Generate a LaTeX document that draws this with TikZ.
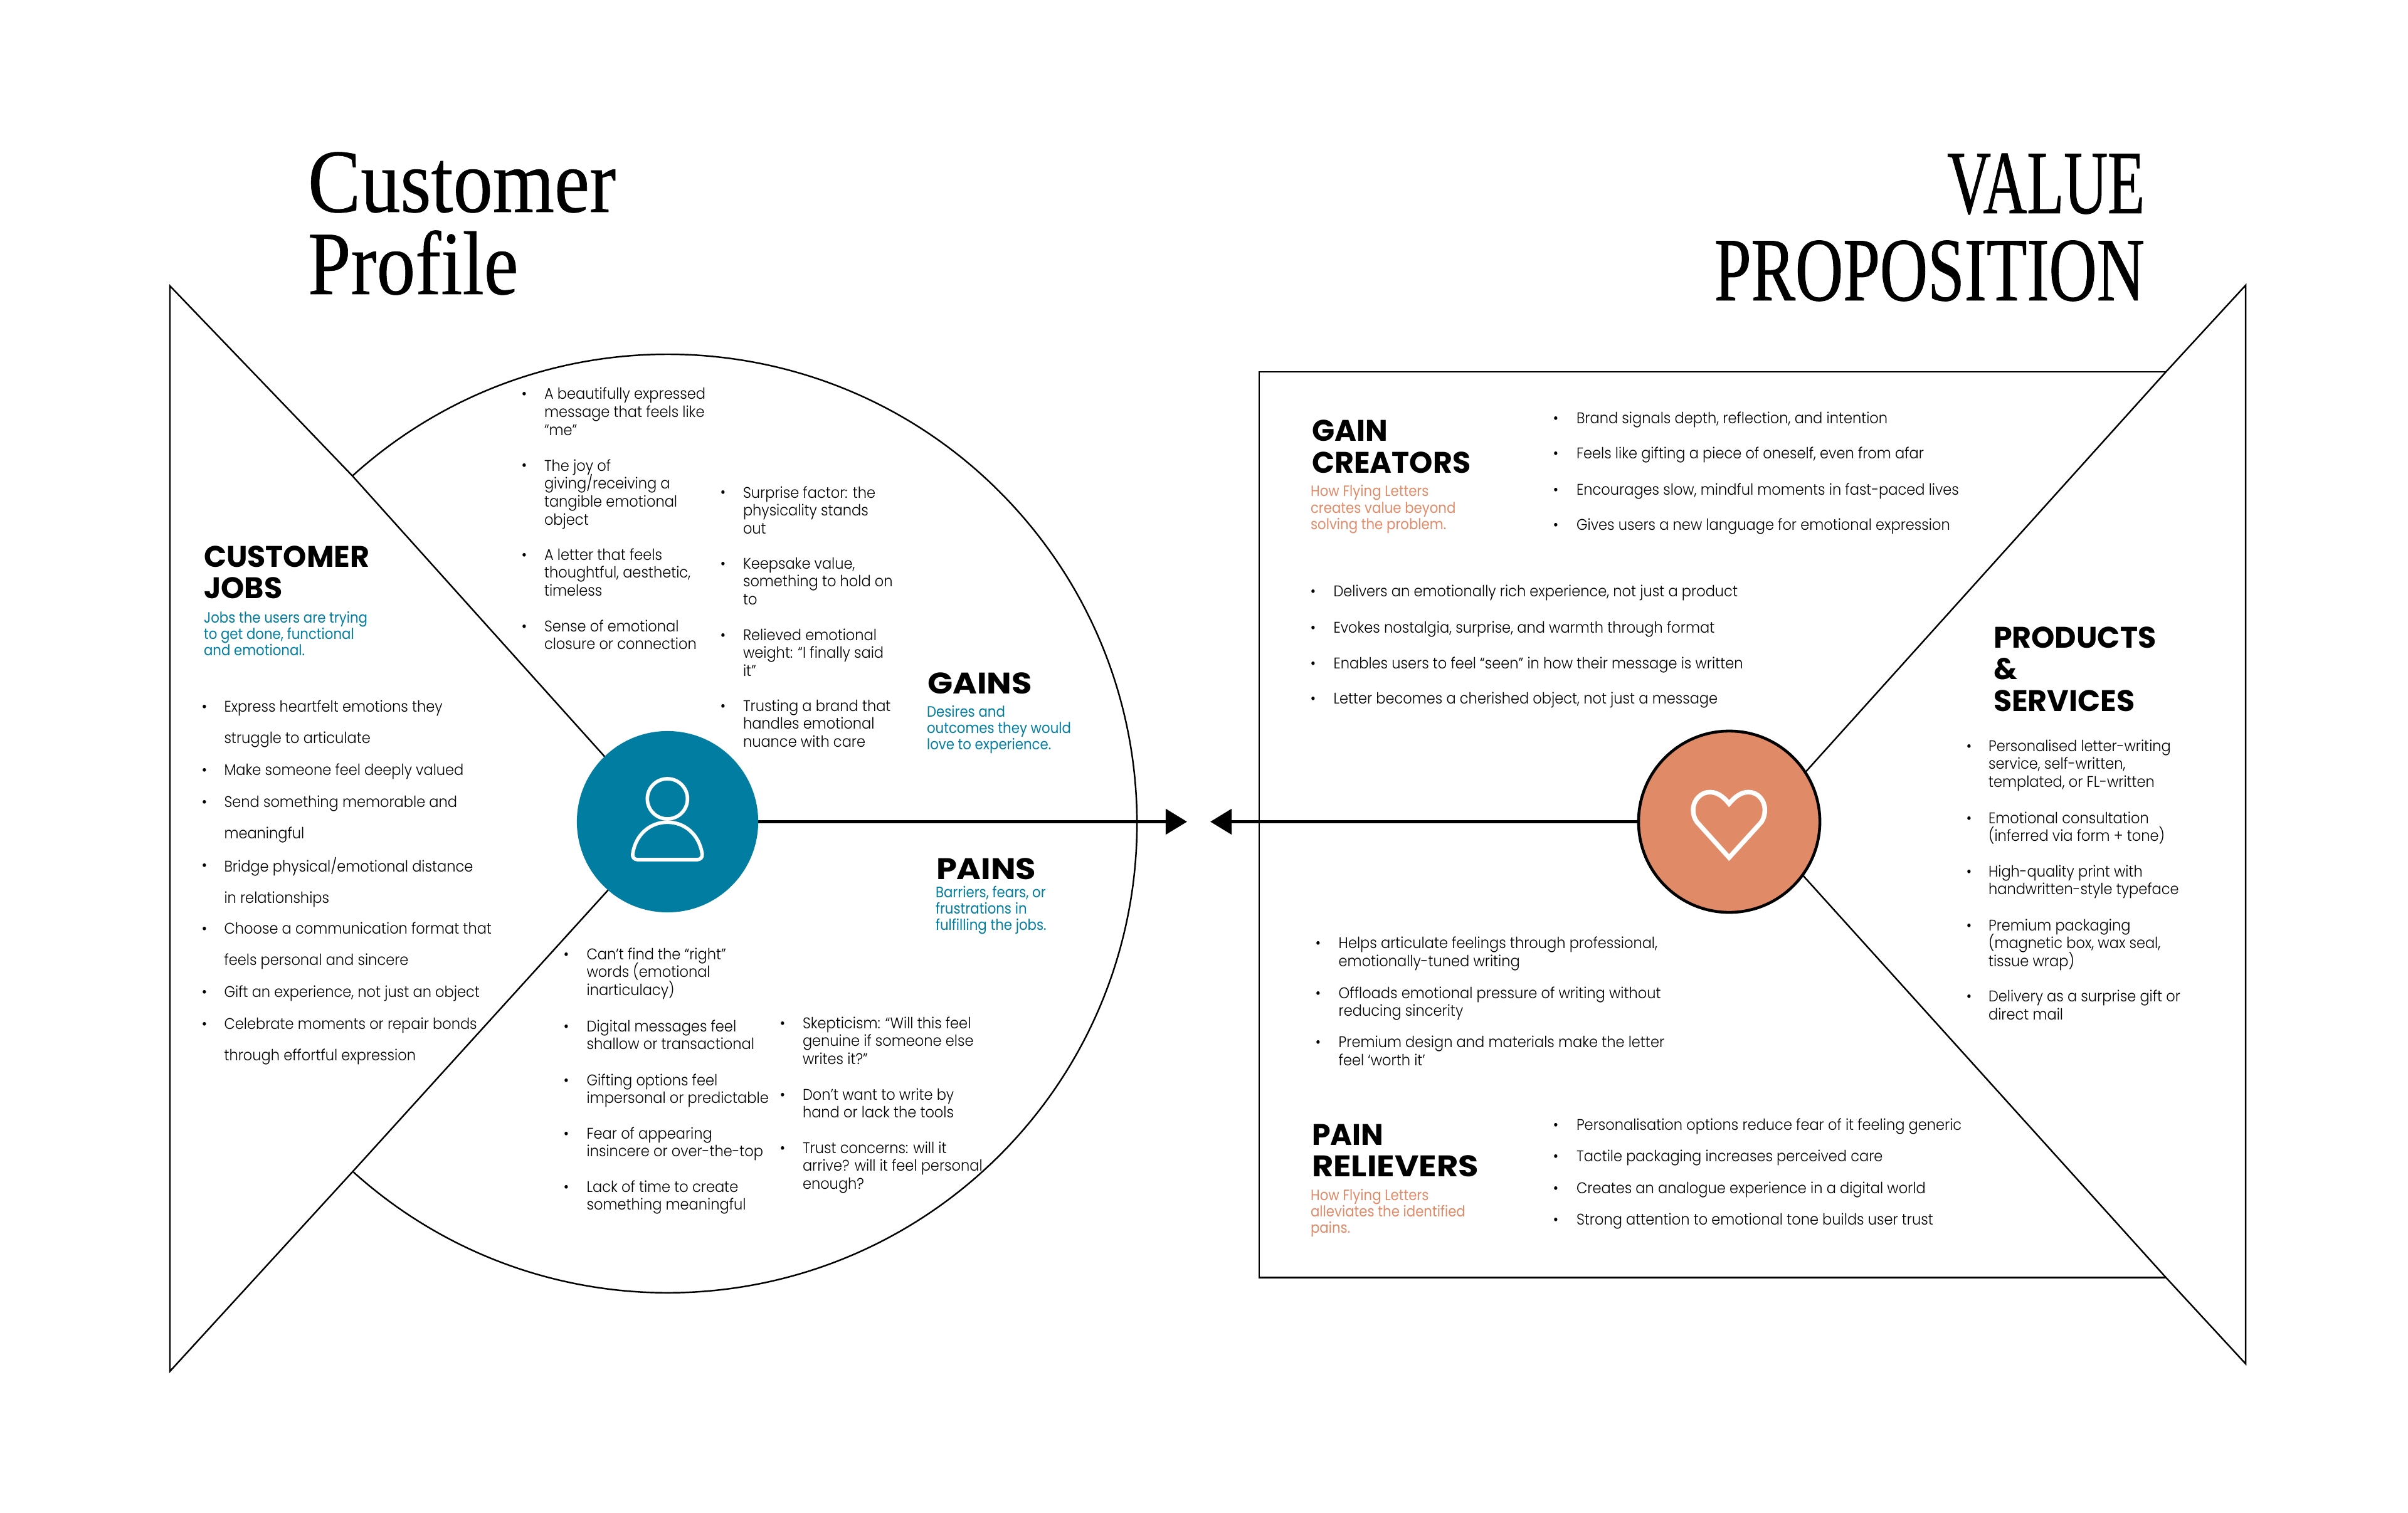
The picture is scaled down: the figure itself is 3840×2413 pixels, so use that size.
\documentclass[tikz,border=0pt]{standalone}
\usepackage{fontspec}
\usetikzlibrary{arrows.meta}
\setmainfont{Poppins}
\newfontfamily\bodyface[FakeStretch=0.915]{Poppins Light}
\newfontfamily\subface[FakeStretch=0.89]{Poppins}
\newfontfamily\headface[FakeStretch=1.0]{Poppins Bold}
\newfontfamily\headwide[FakeStretch=1.11]{Poppins Bold}
\newfontfamily\titleA[FakeStretch=0.876,FakeBold=0.4]{Liberation Serif}
\newfontfamily\titleC[FakeStretch=0.855,FakeBold=0.4]{Liberation Serif}
\newfontfamily\titleB[FakeStretch=0.67,FakeBold=0.6]{Liberation Serif}
\newfontfamily\titleD[FakeStretch=0.732,FakeBold=0.6]{Liberation Serif}
\definecolor{teal}{HTML}{007DA0}
\definecolor{coral}{HTML}{E08A68}
\lineskiplimit=-20pt
\normallineskiplimit=-20pt
\tikzset{
  x=0.01cm,y=-0.01cm,
  bodytxt/.style={anchor=north west,inner sep=0pt,outer sep=0pt,yshift=6pt,align=left,text=black,font=\bodyface\fontsize{7}{8.165}\selectfont},
  wide/.style={font=\bodyface\fontsize{7}{14.4}\selectfont},
  bul/.style={anchor=base,inner sep=0pt,outer sep=0pt,font=\bodyface\fontsize{7}{8}\selectfont},
  headtxt/.style={anchor=north west,inner sep=0pt,outer sep=0pt,yshift=13pt,align=left,text=black,font=\headface\fontsize{13.5}{14.45}\selectfont},
  subtxt/.style={anchor=north west,inner sep=0pt,outer sep=0pt,yshift=6pt,align=left,font=\subface\fontsize{6.8}{7.5}\selectfont},
  titletxt/.style={inner sep=0pt,outer sep=0pt,text=black},
  thinline/.style={draw=black,line width=0.7pt,line join=miter},
  axis/.style={draw=black,line width=1.5pt,-{Triangle[length=9.7pt,width=11.4pt]}},
  iconline/.style={draw=white,line width=1.6pt,line join=round},
  hub/.style={circle,inner sep=0pt,outer sep=0pt,minimum size=2.89cm},
}
\newcommand\itm[6][]{%
  \node[bul] (#2b) at (#3,#5) {•};
  \node[bodytxt,#1] (#2) at (#4,#5) {\rule{0pt}{6pt}#6};
}
\newcommand\hd[4]{\node[headtxt] (#1) at (#2,#3) {\rule{0pt}{13pt}#4};}
\newcommand\sbt[5]{\node[subtxt,text=#4] (#1) at (#2,#3) {\rule{0pt}{6pt}#5};}
\begin{document}
\begin{tikzpicture}
\useasboundingbox (0,0) rectangle (3840,2413);
\fill[white] (0,0) rectangle (3840,2413);

% titles
\node[titletxt,anchor=base west,font=\titleA\fontsize{41}{41}\selectfont] (t1) at (491,338) {Customer};
\node[titletxt,anchor=base west,font=\titleC\fontsize{41}{41}\selectfont] (t2) at (491,469) {Profile};
\node[titletxt,anchor=base east,font=\titleB\fontsize{41}{41}\selectfont] (t3) at (3420,340) {VALUE};
\node[titletxt,anchor=base east,font=\titleD\fontsize{41}{41}\selectfont] (t4) at (3420,479) {PROPOSITION};

% hubs
\node[hub,fill=teal] (person) at (1064.5,1310.5) {};
\node[hub,fill=coral,draw=black,line width=1.3pt] (heart) at (2757.5,1310.5) {};

% left canvas
\coordinate (la) at (271,456);
\coordinate (lb) at (271,2187);
\coordinate (jt) at (562,759);
\coordinate (jb) at (562,1869);
\draw[thinline] (person.134) -- (jt) -- (la) -- (lb) -- (jb) -- (person.229);
\draw[thinline] (jt) arc[start angle=132.2,end angle=-132.03,radius=7.48cm];

% right canvas
\coordinate (ra) at (3581,455);
\coordinate (rb) at (3581,2175);
\coordinate (rt) at (3454,593);
\coordinate (rc) at (3454,2037.5);
\coordinate (rl) at (2008,593);
\coordinate (rd) at (2008,2037.5);
\draw[thinline] (heart.33) -- (rt) -- (ra) -- (rb) -- (rc) -- (heart.-36);
\draw[thinline] (rt) -- (rl) -- (rd) -- (rc);

% axis
\coordinate (tipl) at (1893,1310.5);
\coordinate (tipr) at (1930,1310.5);
\draw[axis] (person.east) -- (tipl);
\draw[axis] (heart.west) -- (tipr);

% person icon
\coordinate (headc) at (1064.3,1274);
\draw[iconline] (headc) circle[radius=0.32cm];
\draw[iconline] (1016.7,1371) -- (1112,1371)
  .. controls (1117,1371) and (1120.5,1367) .. (1119.7,1361.7)
  .. controls (1115,1331) and (1092,1311.3) .. (1064.3,1311.3)
  .. controls (1036.6,1311.3) and (1013.5,1331) .. (1009,1361.7)
  .. controls (1008,1367) and (1011.5,1371) .. (1016.7,1371) -- cycle;

% heart icon
\draw[iconline,line width=2.1pt,line join=miter] (2757.3,1367.7) -- (2706.7,1311.7)
  .. controls (2702,1306) and (2700,1299) .. (2700,1291.7)
  .. controls (2700,1276) and (2712,1263.3) .. (2726.7,1263.3)
  .. controls (2738,1263.3) and (2748,1270) .. (2757.3,1281.7)
  .. controls (2767,1270) and (2777,1263.3) .. (2788.3,1263.3)
  .. controls (2803,1263.3) and (2814.3,1276) .. (2814.3,1291.7)
  .. controls (2814.3,1299) and (2812.5,1306) .. (2808.3,1311.7) -- cycle;

% customer jobs
\hd{hcj}{325}{904}{CUSTOMER\\JOBS}
\sbt{scj}{325}{993}{teal}{Jobs the users are trying\\to get done, functional\\and emotional.}
\itm[wide]{j1}{326}{357.5}{1135}{Express heartfelt emotions they\\struggle to articulate}
\itm[wide]{j2}{326}{357.5}{1236}{Make someone feel deeply valued}
\itm[wide]{j3}{326}{357.5}{1287}{Send something memorable and\\meaningful}
\itm[wide]{j4}{326}{357.5}{1388}{Bridge physical/emotional distance\\in relationships}
\itm[wide]{j5}{326}{357.5}{1489}{Choose a communication format that\\feels personal and sincere}
\itm[wide]{j6}{326}{357.5}{1590}{Gift an experience, not just an object}
\itm[wide]{j7}{326}{357.5}{1641}{Celebrate moments or repair bonds\\through effortful expression}

% gains
\hd{hg}{1479}{1106}{{\headwide GAINS}}
\sbt{sg}{1478}{1143}{teal}{Desires and\\outcomes they would\\love to experience.}
\itm{g1}{836}{868}{637}{A beautifully expressed\\message that feels like\\“me”}
\itm{g2}{836}{868}{751}{The joy of\\giving/receiving a\\tangible emotional\\object}
\itm{g3}{836}{868}{893}{A letter that feels\\thoughtful, aesthetic,\\timeless}
\itm{g4}{836}{868}{1007}{Sense of emotional\\closure or connection}
\itm{g5}{1153}{1185}{794}{Surprise factor: the\\physicality stands\\out}
\itm{g6}{1153}{1185}{907}{Keepsake value,\\something to hold on\\to}
\itm{g7}{1153}{1185}{1021}{Relieved emotional\\weight: “I finally said\\it”}
\itm{g8}{1153}{1185}{1134}{Trusting a brand that\\handles emotional\\nuance with care}

% pains
\hd{hp}{1493}{1402}{{\headwide PAINS}}
\sbt{sp}{1492}{1431}{teal}{Barriers, fears, or\\frustrations in\\fulfilling the jobs.}
\itm{p1}{903}{935.6}{1530}{Can’t find the “right”\\words (emotional\\inarticulacy)}
\itm{p2}{903}{935.6}{1645}{Digital messages feel\\shallow or transactional}
\itm{p3}{903}{935.6}{1731}{Gifting options feel\\impersonal or predictable}
\itm{p4}{903}{935.6}{1816}{Fear of appearing\\insincere or over-the-top}
\itm{p5}{903}{935.6}{1901}{Lack of time to create\\something meaningful}
\itm{p6}{1248}{1280}{1640}{Skepticism: “Will this feel\\genuine if someone else\\writes it?”}
\itm{p7}{1248}{1280}{1754}{Don’t want to write by\\hand or lack the tools}
\itm{p8}{1248}{1280}{1839}{Trust concerns: will it\\arrive? will it feel personal\\enough?}

% gain creators
\hd{hgc}{2092}{704}{GAIN\\CREATORS}
\sbt{sgc}{2090}{792}{coral}{How Flying Letters\\creates value beyond\\solving the problem.}
\itm{c1}{2481}{2514}{675.5}{Brand signals depth, reflection, and intention}
\itm{c2}{2481}{2514}{732}{Feels like gifting a piece of oneself, even from afar}
\itm{c3}{2481}{2514}{790}{Encourages slow, mindful moments in fast-paced lives}
\itm{c4}{2481}{2514}{846}{Gives users a new language for emotional expression}
\itm{d1}{2094}{2126.5}{952}{Delivers an emotionally rich experience, not just a product}
\itm{d2}{2094}{2126.5}{1009}{Evokes nostalgia, surprise, and warmth through format}
\itm{d3}{2094}{2126.5}{1066}{Enables users to feel “seen” in how their message is written}
\itm{d4}{2094}{2126.5}{1122.6}{Letter becomes a cherished object, not just a message}

% products and services
\hd{hps}{3179}{1033}{PRODUCTS\\\&\\SERVICES}
\itm{s1}{3140}{3171}{1198}{Personalised letter-writing\\service, self-written,\\templated, or FL-written}
\itm{s2}{3140}{3171}{1313}{Emotional consultation\\(inferred via form + tone)}
\itm{s3}{3140}{3171}{1398}{High-quality print with\\handwritten-style typeface}
\itm{s4}{3140}{3171}{1484}{Premium packaging\\(magnetic box, wax seal,\\tissue wrap)}
\itm{s5}{3140}{3171}{1597.5}{Delivery as a surprise gift or\\direct mail}

% pain relievers
\itm{r1}{2102}{2134.7}{1512.6}{Helps articulate feelings through professional,\\emotionally-tuned writing}
\itm{r2}{2102}{2134.7}{1592}{Offloads emotional pressure of writing without\\reducing sincerity}
\itm{r3}{2102}{2134.7}{1670.5}{Premium design and materials make the letter\\feel ‘worth it’}
\hd{hpr}{2092}{1826}{PAIN\\{\headwide RELIEVERS}}
\sbt{spr}{2090}{1914}{coral}{How Flying Letters\\alleviates the identified\\pains.}
\itm{q1}{2481}{2514}{1802}{Personalisation options reduce fear of it feeling generic}
\itm{q2}{2481}{2514}{1852}{Tactile packaging increases perceived care}
\itm{q3}{2481}{2514}{1903.5}{Creates an analogue experience in a digital world}
\itm{q4}{2481}{2514}{1953}{Strong attention to emotional tone builds user trust}
\end{tikzpicture}
\end{document}
